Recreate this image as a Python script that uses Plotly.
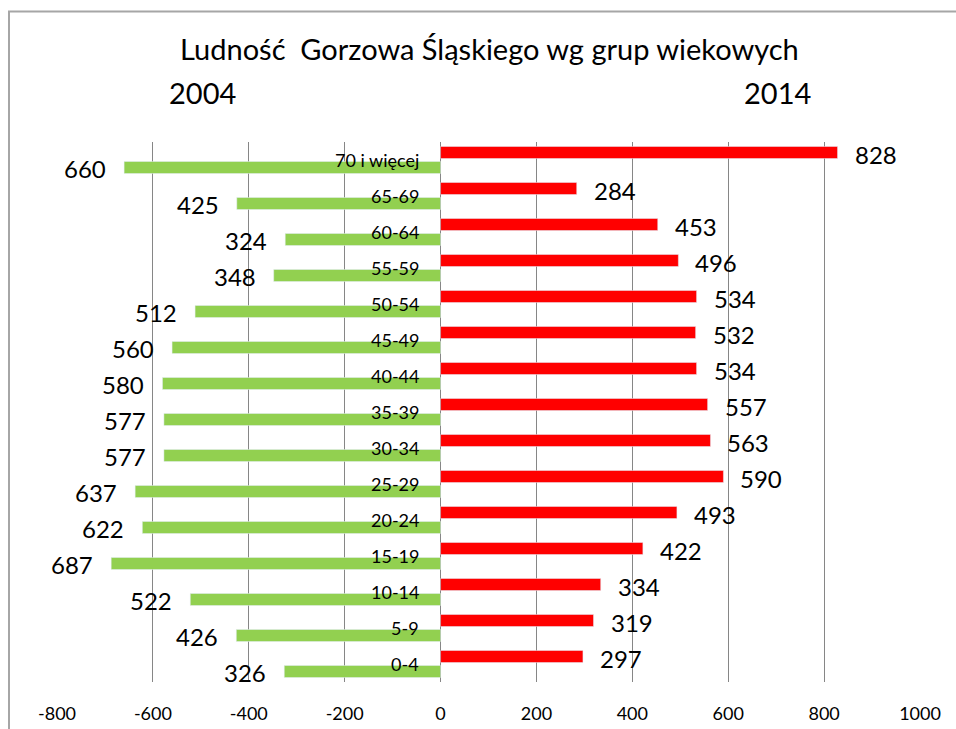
import plotly.graph_objects as go

# grupy wiekowe od dołu do góry
grupy = ["0-4", "5-9", "10-14", "15-19", "20-24", "25-29", "30-34", "35-39",
         "40-44", "45-49", "50-54", "55-59", "60-64", "65-69", "70 i więcej"]
ludnosc_2004 = [326, 426, 522, 687, 622, 637, 577, 577, 580, 560, 512, 348, 324, 425, 660]
ludnosc_2014 = [297, 319, 334, 422, 493, 590, 563, 557, 534, 532, 534, 496, 453, 284, 828]
x_ticks = [-800, -600, -400, -200, 0, 200, 400, 600, 800, 1000]
x_labels = ["-800", "-600", "-400", "-200", "0", "200", "400", "600", "800", "1000"]

FONT = "Lato, Liberation Sans, Arial"
ZIELONY = "#92D050"
CZERWONY = "#FF0000"

fig = go.Figure()
fig.add_trace(go.Bar(y=grupy, x=[-v for v in ludnosc_2004], orientation="h",
                     marker_color=ZIELONY, name="2004", hoverinfo="skip"))
fig.add_trace(go.Bar(y=grupy, x=ludnosc_2014, orientation="h",
                     marker_color=CZERWONY, name="2014", hoverinfo="skip"))

ann = []
# etykiety wartości
for g, v in zip(grupy, ludnosc_2004):
    ann.append(dict(x=-v, y=g, text=str(v), xanchor="right", xshift=-16, yshift=-8,
                    showarrow=False, font=dict(size=24, color="black", family=FONT)))
for g, v in zip(grupy, ludnosc_2014):
    ann.append(dict(x=v, y=g, text=str(v), xanchor="left", xshift=15, yshift=6,
                    showarrow=False, font=dict(size=24, color="black", family=FONT)))
# etykiety kategorii przy osi 0
for g in grupy:
    ann.append(dict(x=0, y=g, text=g, xanchor="right", xshift=-20, yshift=0,
                    showarrow=False, font=dict(size=18, color="black", family=FONT)))
# tytuł i lata
ann.append(dict(x=489, y=48, xref="paper", yref="paper", text="Ludność  Gorzowa Śląskiego wg grup wiekowych",
                showarrow=False, font=dict(size=29, color="black", family=FONT)))
ann.append(dict(x=202, y=92, xref="paper", yref="paper", text="2004",
                showarrow=False, font=dict(size=29, color="black", family=FONT)))
ann.append(dict(x=777, y=92, xref="paper", yref="paper", text="2014",
                showarrow=False, font=dict(size=29, color="black", family=FONT)))

# przeliczenie pikseli na współrzędne paper
L, R, T, B = 57, 36, 142, 47
W, H = 956 - L - R, 729 - T - B
for a in ann:
    if a.get("xref") == "paper":
        a["x"] = (a["x"] - L) / W
        a["y"] = (729 - B - a["y"]) / H
        a["xanchor"] = "center"
        a["yanchor"] = "middle"

fig.update_layout(
    width=956, height=729,
    margin=dict(l=L, r=R, t=T, b=B),
    barmode="group", bargap=0.167, bargroupgap=0.2,
    plot_bgcolor="white", paper_bgcolor="white",
    showlegend=False,
    annotations=ann,
    shapes=[dict(type="rect", xref="paper", yref="paper",
                 x0=(9 - L) / W, x1=(975 - L) / W,
                 y0=-0.2, y1=(729 - B - 11.5) / H,
                 line=dict(color="#A6A6A6", width=2))],
    xaxis=dict(range=[-800, 1000], tickvals=x_ticks, ticktext=x_labels,
               showgrid=True, gridcolor="#868686",
               gridwidth=1, zeroline=True, zerolinecolor="#868686", zerolinewidth=1,
               ticks="", ticklabelstandoff=19, automargin=False,
               tickfont=dict(size=18, color="black", family=FONT)),
    yaxis=dict(range=[-0.5, len(grupy) - 0.5], showticklabels=False, showgrid=False,
               ticks="", showline=False, automargin=False),
)

fig.write_html("out.html", config={"displayModeBar": False},
               post_script="document.body.style.margin='0';")
